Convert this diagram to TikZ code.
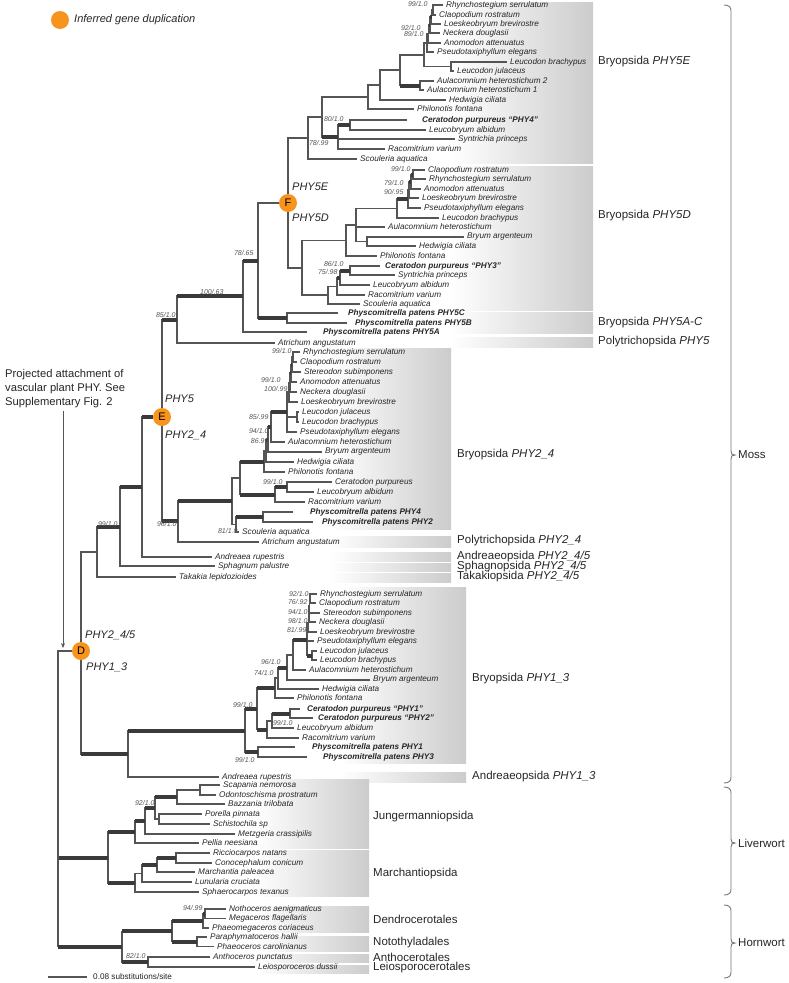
\documentclass[tikz,border=0pt]{standalone}
\usepackage{fontspec}
\setmainfont{Liberation Sans}
\usetikzlibrary{arrows.meta}
\definecolor{brc}{HTML}{555555}
\definecolor{thc}{HTML}{3A3A3A}
\definecolor{orng}{HTML}{F7941D}
\definecolor{supc}{HTML}{555555}
\definecolor{barg}{gray}{0.8}
\definecolor{bracec}{HTML}{777777}
\newcommand\tb[2]{\draw[br] (#1) |- (#2);}
\newcommand\kb[2]{\draw[br] (#1) |- (#2);\draw[thk] (#1 |- #2) -- (#2);}
\newcommand\tp[5][]{\node[tip,#1] (#2) at (#3,#4) {#5};}
\newcommand\sv[3]{\node[sup] at (#1,#2) {#3};}
\newcommand\gbar[4]{\fill[left color=white,right color=barg] (#1,#2) rectangle (#3,#4);}
\newcommand\glab[3]{\node[grp] at (#1,#2) {#3};}
\newcommand\brce[4]{\draw[bracest] (#1,#2) .. controls (#1+5,#2) and (#1+7,#2+2) .. (#1+7,#2+6) -- (#1+7,#4-4) .. controls (#1+7,#4-1) and (#1+8,#4) .. (#1+11,#4) .. controls (#1+8,#4) and (#1+7,#4+1) .. (#1+7,#4+4) -- (#1+7,#3-6) .. controls (#1+7,#3-2) and (#1+5,#3) .. (#1,#3);}
\begin{document}
\begin{tikzpicture}[x=1pt,y=-1pt,
  br/.style={draw=brc,line width=1.1pt},
  thk/.style={draw=thc,line width=4pt},
  tip/.style={anchor=west,inner xsep=3.5pt,inner ysep=0.5pt,font=\fontsize{8.2}{9}\selectfont\itshape,text=black!85},
  tipb/.style={font=\fontsize{8.2}{9}\selectfont\bfseries\itshape},
  sup/.style={anchor=east,inner sep=0.3pt,font=\fontsize{7}{7}\selectfont\itshape,text=supc},
  grp/.style={anchor=west,inner sep=0,font=\fontsize{11.5}{12}\selectfont,text=black!85},
  lab/.style={anchor=west,inner sep=0,font=\fontsize{11}{12}\selectfont\itshape,text=black!85},
  circ/.style={circle,fill=orng,minimum size=18pt,inner sep=0,font=\fontsize{11}{11}\selectfont},
  bracest/.style={draw=bracec,line width=0.9pt},
  arr/.style={draw=brc,line width=1pt,-{Stealth[length=5pt,width=4pt]}}]
\fill[white] (0,0) rectangle (788,983);
\useasboundingbox (0,0) rectangle (788,983);
% ---- group bars
\gbar{450}{2}{593}{163}
\gbar{450}{166}{593}{310}
\gbar{450}{312}{593}{333}
\gbar{450}{337}{593}{347}
\gbar{330}{348}{451}{529}
\gbar{330}{536}{451}{547}
\gbar{330}{552}{451}{561}
\gbar{330}{563}{451}{571}
\gbar{330}{573}{451}{582}
\gbar{340}{587}{466}{763}
\gbar{340}{772}{466}{782}
\gbar{255}{779}{369}{848}
\gbar{255}{850}{369}{896}
\gbar{255}{906}{369}{932}
\gbar{255}{936}{369}{951}
\gbar{255}{954}{369}{962}
\gbar{255}{965}{369}{973}
% ---- group labels
\glab{598}{62}{Bryopsida \textit{PHY5E}}
\glab{598}{216}{Bryopsida \textit{PHY5D}}
\glab{598}{323}{Bryopsida \textit{PHY5A-C}}
\glab{598}{342}{Polytrichopsida \textit{PHY5}}
\glab{457}{455}{Bryopsida \textit{PHY2\_4}}
\glab{457}{541}{Polytrichopsida \textit{PHY2\_4}}
\glab{457}{557}{Andreaeopsida \textit{PHY2\_4/5}}
\glab{457}{567}{Sphagnopsida \textit{PHY2\_4/5}}
\glab{457}{577}{Takakiopsida \textit{PHY2\_4/5}}
\glab{472}{679}{Bryopsida \textit{PHY1\_3}}
\glab{472}{777}{Andreaeopsida \textit{PHY1\_3}}
\glab{373}{817}{Jungermanniopsida}
\glab{373}{874}{Marchantiopsida}
\glab{373}{919}{Dendrocerotales}
\glab{373}{943}{Notothyladales}
\glab{373}{957}{Anthocerotales}
\glab{373}{968}{Leiosporocerotales}
% ---- braces
\brce{724}{5}{783}{455}
\brce{724}{787}{895}{843}
\brce{724}{905}{978}{943}
\node[grp] (moss) at (738,455) {Moss};
\node[grp] (liv) at (738,843) {Liverwort};
\node[grp] (horn) at (738,943) {Hornwort};
% ---- circles
\node[circ] (nF) at (288,203) {F};
\node[circ] (nE) at (162,417) {E};
\node[circ] (nD) at (81,651) {D};
\node[circ] (leg) at (60,20) {};
\node[lab] (legt) at (74,20) {Inferred gene duplication};
% ---- PHY5E tips
\tp{t1}{442.5}{5}{Rhynchostegium serrulatum}
\tp{t2}{435.5}{15}{Claopodium rostratum}
\tp{t3}{440.5}{24}{Loeskeobryum brevirostre}
\tp{t4}{439.5}{33}{Neckera douglasii}
\tp{t5}{440.5}{43}{Anomodon attenuatus}
\tp{t6}{433.5}{52}{Pseudotaxiphyllum elegans}
\tp{t7}{506.5}{62}{Leucodon brachypus}
\tp{t8}{453.5}{71}{Leucodon julaceus}
\tp{t9}{433.5}{81}{Aulacomnium heterostichum 2}
\tp{t10}{423.5}{90}{Aulacomnium heterostichum 1}
\tp{t11}{445.5}{100}{Hedwigia ciliata}
\tp{t12}{413.5}{109}{Philonotis fontana}
\tp[tipb,inner xsep=15pt]{t13}{407}{120}{Ceratodon purpureus “PHY4”}
\tp{t14}{425.5}{130}{Leucobryum albidum}
\tp{t15}{454.5}{139}{Syntrichia princeps}
\tp{t16}{384.5}{149}{Racomitrium varium}
\tp{t17}{356.5}{159}{Scouleria aquatica}
\coordinate (a1) at (433,10);
\coordinate (a2) at (431.5,17);
\coordinate (a3) at (430,25);
\coordinate (a4) at (428.5,34);
\coordinate (a5) at (427,43);
\coordinate (aL) at (451,66.5);
\coordinate (a6) at (424,55);
\coordinate (aA) at (420,85.5);
\coordinate (a7) at (400,70);
\coordinate (a8) at (380,85);
\coordinate (a9) at (368,97);
\coordinate (aC1) at (350,125);
\coordinate (aC2) at (338,137);
\coordinate (a10) at (322,117);
\coordinate (a11) at (308,138);
\tb{a1}{t1}\tb{a1}{t2}
\tb{a2}{a1}\tb{a2}{t3}
\kb{a3}{a2}\tb{a3}{t4}
\kb{a4}{a3}\tb{a4}{t5}
\tb{a5}{a4}\tb{a5}{t6}
\tb{aL}{t7}\tb{aL}{t8}
\tb{a6}{a5}\tb{a6}{aL}
\tb{aA}{t9}\tb{aA}{t10}
\tb{a7}{a6}\kb{a7}{aA}
\tb{a8}{a7}\tb{a8}{t11}
\tb{a9}{a8}\tb{a9}{t12}
\tb{aC1}{t13}\tb{aC1}{t14}
\kb{aC2}{aC1}\tb{aC2}{t15}\tb{aC2}{t16}
\tb{a10}{a9}\kb{a10}{aC2}
\tb{a11}{a10}\tb{a11}{t17}
% ---- PHY5D
\tp{u1}{424.5}{170}{Claopodium rostratum}
\tp{u2}{425.5}{179}{Rhynchostegium serrulatum}
\tp{u3}{420.5}{189}{Anomodon attenuatus}
\tp{u4}{418.5}{198}{Loeskeobryum brevirostre}
\tp{u5}{420.5}{208}{Pseudotaxiphyllum elegans}
\tp{u6}{438.5}{218}{Leucodon brachypus}
\tp{u7}{384.5}{227}{Aulacomnium heterostichum}
\tp{u8}{463.5}{237}{Bryum argenteum}
\tp{u9}{415.5}{246}{Hedwigia ciliata}
\tp{u10}{376.5}{256}{Philonotis fontana}
\tp[tipb,inner xsep=5pt]{u11}{380}{266}{Ceratodon purpureus “PHY3”}
\tp{u12}{394.5}{275}{Syntrichia princeps}
\tp{u13}{369.5}{285}{Leucobryum albidum}
\tp{u14}{364.5}{295}{Racomitrium varium}
\tp{u15}{359.5}{304}{Scouleria aquatica}
\coordinate (b1) at (413,174.5);
\coordinate (b2) at (411,182);
\coordinate (b3) at (409,190);
\coordinate (b4) at (408,199);
\coordinate (b5) at (397,208.5);
\coordinate (bBH) at (367,241.5);
\coordinate (b6) at (356,225);
\coordinate (b8) at (346,240.5);
\coordinate (c1) at (350,270.5);
\coordinate (c2) at (340,278);
\coordinate (c3) at (337,286.5);
\coordinate (c4) at (328,295);
\coordinate (b9) at (302,268);
\tb{b1}{u1}\tb{b1}{u2}
\kb{b2}{b1}\tb{b2}{u3}
\kb{b3}{b2}\tb{b3}{u4}
\tb{b4}{b3}\tb{b4}{u5}
\kb{b5}{b4}\tb{b5}{u6}
\tb{bBH}{u8}\tb{bBH}{u9}
\tb{b6}{b5}\tb{b6}{u7}\tb{b6}{bBH}
\tb{b8}{b6}\tb{b8}{u10}
\tb{c1}{u11}\tb{c1}{u12}
\kb{c2}{c1}\tb{c2}{u13}
\kb{c3}{c2}\tb{c3}{u14}
\tb{c4}{c3}\tb{c4}{u15}
\tb{b9}{b8}\tb{b9}{c4}
\tb{nF}{a11}\tb{nF}{b9}
% ---- PHY5A-C, Atrichum
\tp[tipb,inner xsep=10pt]{v1}{338}{313}{Physcomitrella patens PHY5C}
\tp[tipb,inner xsep=8pt]{v2}{347}{323}{Physcomitrella patens PHY5B}
\tp[tipb,inner xsep=16pt]{v3}{307}{332}{Physcomitrella patens PHY5A}
\tp{v4}{274.5}{343}{Atrichum angustatum}
\coordinate (BC) at (287,318);
\coordinate (G) at (258,261);
\coordinate (H) at (243,296);
\coordinate (I) at (177,320);
\tb{BC}{v1}\tb{BC}{v2}
\tb{G}{nF}\kb{G}{BC}
\kb{H}{G}\tb{H}{v3}
\kb{I}{H}\tb{I}{v4}
% ---- PHY2_4
\tp{w1}{299.5}{352}{Rhynchostegium serrulatum}
\tp{w2}{296.5}{362}{Claopodium rostratum}
\tp{w3}{300.5}{372}{Stereodon subimponens}
\tp{w4}{296.5}{382}{Anomodon attenuatus}
\tp{w5}{296.5}{392}{Neckera douglasii}
\tp{w6}{297.5}{402}{Loeskeobryum brevirostre}
\tp{w7}{298.5}{412}{Leucodon julaceus}
\tp{w8}{298.5}{422}{Leucodon brachypus}
\tp{w9}{296.5}{432}{Pseudotaxiphyllum elegans}
\tp{w10}{284.5}{442}{Aulacomnium heterostichum}
\tp{w11}{321.5}{452}{Bryum argenteum}
\tp{w12}{293.5}{462}{Hedwigia ciliata}
\tp{w13}{284.5}{472}{Philonotis fontana}
\tp{w14}{331.5}{482}{Ceratodon purpureus}
\tp{w15}{313.5}{492}{Leucobryum albidum}
\tp{w16}{304.5}{502}{Racomitrium varium}
\tp[tipb,inner xsep=17pt]{w17}{293}{512}{Physcomitrella patens PHY4}
\tp[tipb,inner xsep=9pt]{w18}{313}{522}{Physcomitrella patens PHY2}
\tp{w19}{238.5}{532}{Scouleria aquatica}
\tp{w20}{258.5}{542}{Atrichum angustatum}
\coordinate (d1) at (293,357);
\coordinate (d2) at (292,364.5);
\coordinate (d3) at (291,373);
\coordinate (d4) at (290,382.5);
\coordinate (d5) at (289,392);
\coordinate (dL) at (297,417);
\coordinate (dT) at (287,412);
\coordinate (d6) at (271,427);
\coordinate (d7) at (268,439.5);
\coordinate (d8) at (266,451);
\coordinate (d9) at (264,461.5);
\coordinate (dCL) at (287,487);
\coordinate (dCLR) at (275,494.5);
\coordinate (dPP) at (263,517);
\coordinate (dS) at (236,524.5);
\coordinate (dQ) at (240,478);
\coordinate (dP) at (232,501);
\coordinate (K) at (178,521);
\tb{d1}{w1}\tb{d1}{w2}
\tb{d2}{d1}\tb{d2}{w3}
\kb{d3}{d2}\tb{d3}{w4}
\kb{d4}{d3}\tb{d4}{w5}
\tb{d5}{d4}\tb{d5}{w6}
\tb{dL}{w7}\tb{dL}{w8}
\tb{dT}{d5}\tb{dT}{dL}\tb{dT}{w9}
\kb{d6}{dT}\tb{d6}{w10}
\kb{d7}{d6}\tb{d7}{w11}
\kb{d8}{d7}\tb{d8}{w12}
\tb{d9}{d8}\tb{d9}{w13}
\tb{dCL}{w14}\tb{dCL}{w15}
\kb{dCLR}{dCL}\tb{dCLR}{w16}
\tb{dPP}{w17}\tb{dPP}{w18}
\kb{dS}{dPP}\tb{dS}{w19}
\kb{dQ}{d9}\kb{dQ}{dCLR}
\tb{dP}{dQ}\tb{dP}{dS}
\kb{K}{dP}\tb{K}{w20}
\kb{nE}{I}\kb{nE}{K}
% ---- Andreaea, Sphagnum, Takakia
\tp{x1}{211.5}{557}{Andreaea rupestris}
\tp{x2}{214.5}{566}{Sphagnum palustre}
\tp{x3}{175.5}{577}{Takakia lepidozioides}
\coordinate (L) at (142,487);
\coordinate (M) at (120,526.5);
\coordinate (N) at (97,552);
\kb{L}{nE}\tb{L}{x1}
\kb{M}{L}\tb{M}{x2}
\kb{N}{M}\tb{N}{x3}
% ---- PHY1_3
\tp{y1}{316.5}{594}{Rhynchostegium serrulatum}
\tp{y2}{315.5}{603}{Claopodium rostratum}
\tp{y3}{319.5}{613}{Stereodon subimponens}
\tp{y4}{315.5}{622}{Neckera douglasii}
\tp{y5}{316.5}{632}{Loeskeobryum brevirostre}
\tp{y6}{313.5}{641}{Pseudotaxiphyllum elegans}
\tp{y7}{316.5}{651}{Leucodon julaceus}
\tp{y8}{316.5}{660}{Leucodon brachypus}
\tp{y9}{305.5}{670}{Aulacomnium heterostichum}
\tp{y10}{369.5}{680}{Bryum argenteum}
\tp{y11}{318.5}{689}{Hedwigia ciliata}
\tp{y12}{293.5}{698}{Philonotis fontana}
\tp[tipb,inner xsep=7pt]{y13}{300}{709}{Ceratodon purpureus “PHY1”}
\tp[tipb,inner xsep=5pt]{y14}{313}{718}{Ceratodon purpureus “PHY2”}
\tp{y15}{293.5}{728}{Leucobryum albidum}
\tp{y16}{298.5}{738}{Racomitrium varium}
\tp[tipb,inner xsep=17pt]{y17}{295}{747}{Physcomitrella patens PHY1}
\tp[tipb,inner xsep=16pt]{y18}{307}{757}{Physcomitrella patens PHY3}
\tp{y19}{218.5}{777}{Andreaea rupestris}
\coordinate (e1) at (310,598.5);
\coordinate (e2) at (309.5,606);
\coordinate (e3) at (309,614);
\coordinate (e4) at (308.5,623);
\coordinate (eL) at (312,655.5);
\coordinate (e5) at (307,640);
\coordinate (e6) at (293,655);
\coordinate (e7) at (287,667.5);
\coordinate (e8) at (278,678);
\coordinate (e9) at (275,688);
\coordinate (eCC) at (290,713.5);
\coordinate (eY1) at (272,721);
\coordinate (eY2) at (267,729.5);
\coordinate (eX1) at (257,709);
\coordinate (ePP) at (258,752);
\coordinate (eX2) at (245,730.5);
\coordinate (Z) at (128,754);
\tb{e1}{y1}\tb{e1}{y2}
\tb{e2}{e1}\tb{e2}{y3}
\tb{e3}{e2}\tb{e3}{y4}
\tb{e4}{e3}\tb{e4}{y5}
\tb{eL}{y7}\tb{eL}{y8}
\tb{e5}{e4}\tb{e5}{y6}\kb{e5}{eL}
\kb{e6}{e5}\tb{e6}{y9}
\tb{e7}{e6}\tb{e7}{y10}
\kb{e8}{e7}\tb{e8}{y11}
\tb{e9}{e8}\tb{e9}{y12}
\tb{eCC}{y13}\tb{eCC}{y14}
\kb{eY1}{eCC}\tb{eY1}{y15}
\tb{eY2}{eY1}\tb{eY2}{y16}
\kb{eX1}{e9}\kb{eX1}{eY2}
\tb{ePP}{y17}\tb{ePP}{y18}
\kb{eX2}{eX1}\kb{eX2}{ePP}
\kb{Z}{eX2}\tb{Z}{y19}
\tb{nD}{N}\kb{nD}{Z}
% ---- Liverworts
\tp{l1}{219.5}{785}{Scapania nemorosa}
\tp{l2}{215.5}{795}{Odontoschisma prostratum}
\tp{l3}{224.5}{804}{Bazzania trilobata}
\tp{l4}{201.5}{814}{Porella pinnata}
\tp{l5}{209.5}{824}{Schistochila sp}
\tp{l6}{234.5}{834}{Metzgeria crassipilis}
\tp{l7}{198.5}{843}{Pellia neesiana}
\tp{l8}{209.5}{853}{Ricciocarpos natans}
\tp{l9}{211.5}{863}{Conocephalum conicum}
\tp{l10}{194.5}{872}{Marchantia paleacea}
\tp{l11}{191.5}{882}{Lunularia cruciata}
\tp{l12}{198.5}{892}{Sphaerocarpos texanus}
\coordinate (j1) at (200,790);
\coordinate (j2) at (177,797);
\coordinate (j3) at (159,819);
\coordinate (j4) at (155,808);
\coordinate (j5) at (145,821);
\coordinate (j6) at (135,832);
\coordinate (m1) at (176,858);
\coordinate (m2) at (157,865);
\coordinate (m3) at (142,873.5);
\coordinate (m4) at (135,883);
\coordinate (LV) at (108,857.5);
\tb{j1}{l1}\tb{j1}{l2}
\tb{j2}{j1}\tb{j2}{l3}
\tb{j3}{l4}\tb{j3}{l5}
\kb{j4}{j2}\tb{j4}{j3}
\kb{j5}{j4}\tb{j5}{l6}
\kb{j6}{j5}\tb{j6}{l7}
\tb{m1}{l8}\tb{m1}{l9}
\kb{m2}{m1}\tb{m2}{l10}
\kb{m3}{m2}\tb{m3}{l11}
\tb{m4}{m3}\tb{m4}{l12}
\kb{LV}{j6}\kb{LV}{m4}
% ---- Hornworts
\tp{h1}{225.5}{909}{Nothoceros aenigmaticus}
\tp{h2}{225.5}{918.5}{Megaceros flagellaris}
\tp{h3}{208.5}{928}{Phaeomegaceros coriaceus}
\tp{h4}{206.5}{937}{Paraphymatoceros hallii}
\tp{h5}{213.5}{946.5}{Phaeoceros carolinianus}
\tp{h6}{209.5}{957}{Anthoceros punctatus}
\tp{h7}{254.5}{967}{Leiosporoceros dussii}
\coordinate (k1) at (205,913.75);
\coordinate (k2) at (203,921);
\coordinate (k3) at (197,941.75);
\coordinate (k4) at (172,931.4);
\coordinate (k5) at (148,962);
\coordinate (k6) at (122,946.7);
\tb{k1}{h1}\tb{k1}{h2}
\kb{k2}{k1}\tb{k2}{h3}
\tb{k3}{h4}\tb{k3}{h5}
\kb{k4}{k2}\kb{k4}{k3}
\tb{k5}{h6}\tb{k5}{h7}
\kb{k6}{k4}\kb{k6}{k5}
% ---- root
\coordinate (R) at (58,800);
\tb{R}{nD}\kb{R}{LV}\kb{R}{k6}
% ---- support values
\sv{428}{4}{99/1.0}
\sv{421}{28}{92/1.0}
\sv{424}{34}{89/1.0}
\sv{344}{119}{80/1.0}
\sv{329}{143}{78/.99}
\sv{411}{169}{99/1.0}
\sv{404}{183}{79/1.0}
\sv{404}{192}{90/.95}
\sv{344}{264}{86/1.0}
\sv{338}{272}{75/.98}
\sv{254}{253}{78/.65}
\sv{224}{292}{100/.63}
\sv{176}{315}{85/1.0}
\sv{292}{351}{99/1.0}
\sv{281}{380}{99/1.0}
\sv{288}{389}{100/.99}
\sv{269}{417}{85/.99}
\sv{269}{431}{94/1.0}
\sv{269}{441}{86.99}
\sv{283}{482}{99/1.0}
\sv{238}{531}{81/1.0}
\sv{177}{524}{96/1.0}
\sv{118}{524}{99/1.0}
\sv{309}{594}{92/1.0}
\sv{308}{602}{76/.92}
\sv{308}{612}{94/1.0}
\sv{308}{621}{98/1.0}
\sv{307}{630}{81/.99}
\sv{281}{662}{96/1.0}
\sv{274}{673}{74/1.0}
\sv{253}{705}{99/1.0}
\sv{293}{723}{99/1.0}
\sv{255}{760}{99/1.0}
\sv{155}{803}{92/1.0}
\sv{203}{908}{94/.99}
\sv{146}{956}{82/1.0}
% ---- duplication labels
\node[lab] (l5e) at (292,187) {PHY5E};
\node[lab] (l5d) at (292,218) {PHY5D};
\node[lab] (l5) at (165,399) {PHY5};
\node[lab] (l24) at (165,435) {PHY2\_4};
\node[lab] (l245) at (85,635) {PHY2\_4/5};
\node[lab] (l13) at (86,667) {PHY1\_3};
% ---- projected attachment
\node[anchor=west,inner sep=0,align=left,font=\fontsize{11.2}{14}\selectfont,text=black!85] (proj) at (5,389) {Projected attachment of\\vascular plant PHY. See\\Supplementary Fig. 2};
\coordinate (astart) at (63,411);
\coordinate (aend) at (63,648);
\draw[arr] (astart) -- (aend);
% ---- scale bar
\coordinate (sb1) at (48,977);
\coordinate (sb2) at (87,977);
\draw[br] (sb1) -- (sb2);
\node[anchor=west,inner sep=0,font=\fontsize{8.2}{9}\selectfont,text=black!85] (sbt) at (93,977) {0.08 substitutions/site};
\end{tikzpicture}
\end{document}
